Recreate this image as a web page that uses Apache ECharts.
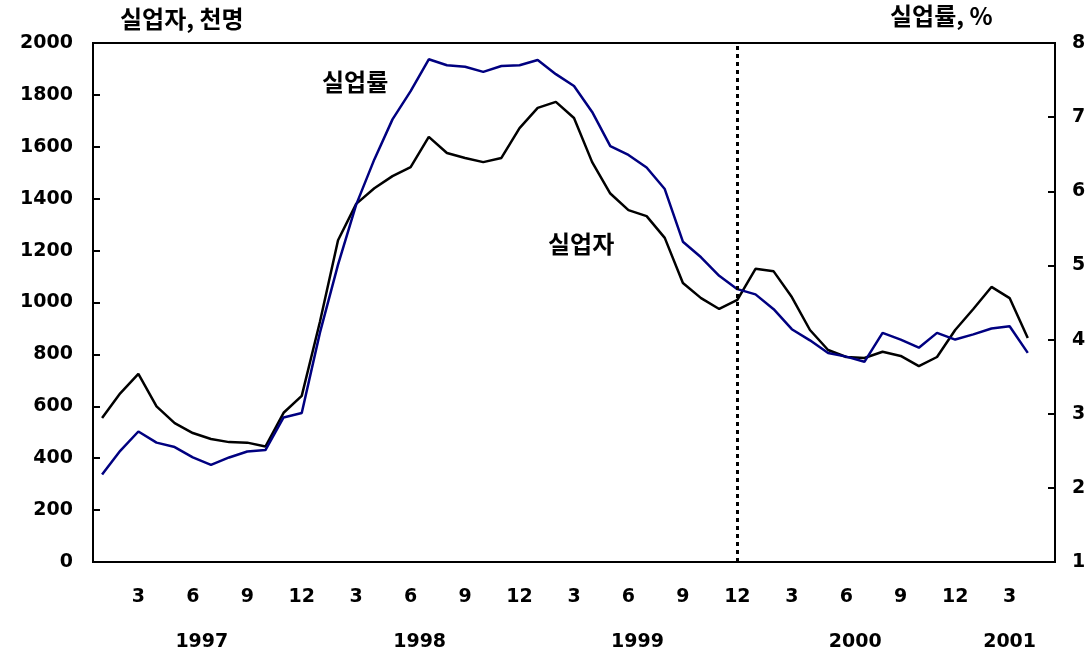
<!DOCTYPE html>
<html>
<head>
<meta charset="utf-8">
<script src="https://cdn.jsdelivr.net/npm/echarts@6/dist/echarts.min.js"></script>
<style>
  html, body { margin: 0; padding: 0; background: #fff; }
  #chart { width: 1092px; height: 656px; }
</style>
</head>
<body>
<div id="chart"></div>
<script>
// 1997.1 ~ 2001.5 월별 (마지막 달은 여백용)
const months = [];
for (let y = 1997; y <= 2001; y++) {
    for (let m = 1; m <= 12; m++) {
        if (y === 2001 && m > 5) break;
        months.push(y + '.' + m);
    }
}

// 실업자 (천명, 왼쪽 축)
const unemployed = [
    555, 650, 725, 600, 535, 497, 474, 462, 460, 445, 575, 640,
    925, 1240, 1380, 1440, 1487, 1522, 1638, 1576, 1557, 1541, 1557, 1672,
    1750, 1773, 1711, 1541, 1420, 1356, 1333, 1249, 1075, 1017, 975, 1010,
    1130, 1120, 1021, 894, 817, 790, 786, 810, 794, 755, 790, 894,
    975, 1060, 1017, 863
];

// 실업률 (%, 오른쪽 축)
const rate = [
    2.18, 2.50, 2.76, 2.61, 2.55, 2.41, 2.31, 2.41, 2.49, 2.51, 2.95, 3.01,
    4.09, 5.01, 5.82, 6.43, 6.97, 7.35, 7.78, 7.70, 7.68, 7.61, 7.69, 7.70,
    7.77, 7.58, 7.42, 7.07, 6.61, 6.49, 6.32, 6.03, 5.32, 5.11, 4.86, 4.68,
    4.61, 4.41, 4.14, 3.99, 3.82, 3.77, 3.70, 4.09, 4.00, 3.89, 4.09, 4.00,
    4.07, 4.15, 4.18, 3.82
];

const yearLabels = { '1997.6': '1997', '1998.6': '1998', '1999.6': '1999', '2000.6': '2000', '2001.3': '2001' };
const breakMonth = '1999.12';

const numFont = '"DejaVu Sans", sans-serif';
const krFont = '"Noto Sans CJK KR", sans-serif';

const myChart = echarts.init(document.getElementById('chart'), null, { renderer: 'canvas' });

const option = {
    backgroundColor: '#fff',
    animation: false,
    title: [
        {
            text: '실업자, 천명',
            left: 115, top: 2,
            textStyle: { fontFamily: krFont, fontSize: 24, fontWeight: 'bold', color: '#000' }
        },
        {
            text: '실업률, %',
            left: 885, top: -1,
            textStyle: { fontFamily: krFont, fontSize: 24, fontWeight: 'bold', color: '#000' }
        }
    ],
    graphic: [
        {
            type: 'text', left: 322, top: 70,
            style: { text: '실업률', font: 'bold 24px ' + krFont, fill: '#000' }
        },
        {
            type: 'text', left: 548, top: 232,
            style: { text: '실업자', font: 'bold 24px ' + krFont, fill: '#000' }
        }
    ],
    grid: {
        left: 93, right: 37, top: 43, bottom: 94,
        show: true, borderColor: '#000', borderWidth: 2, backgroundColor: 'transparent'
    },
    xAxis: [
        {
            type: 'category',
            data: months,
            boundaryGap: true,
            axisLine: { show: false },
            axisTick: { show: false },
            axisLabel: {
                interval: 0,
                margin: 26,
                fontFamily: numFont, fontSize: 19, fontWeight: 'bold', color: '#000',
                formatter: function (v) {
                    const m = +v.split('.')[1];
                    return (m % 3 === 0) ? String(m) : '';
                }
            }
        },
        {
            type: 'category',
            data: months,
            position: 'bottom',
            boundaryGap: true,
            axisLine: { show: false },
            axisTick: { show: false },
            axisLabel: {
                interval: 0,
                margin: 71,
                fontFamily: numFont, fontSize: 19, fontWeight: 'bold', color: '#000',
                formatter: function (v) {
                    if (!yearLabels[v]) return '';
                    return v === '2001.3' ? '{b|' + yearLabels[v] + '}' : '{a|' + yearLabels[v] + '}';
                },
                rich: {
                    a: { padding: [0, 0, 0, 18], fontFamily: numFont, fontSize: 19, fontWeight: 'bold', color: '#000' },
                    b: { fontFamily: numFont, fontSize: 19, fontWeight: 'bold', color: '#000' }
                }
            }
        }
    ],
    yAxis: [
        {
            type: 'value',
            min: 0, max: 2000, interval: 200,
            splitLine: { show: false },
            axisLine: { show: true, lineStyle: { color: '#000', width: 2 } },
            axisTick: { show: true, inside: true, length: 7, lineStyle: { color: '#000', width: 2 } },
            axisLabel: {
                margin: 20, fontFamily: numFont, fontSize: 19, fontWeight: 'bold', color: '#000',
                formatter: function (v) { return String(v); }
            }
        },
        {
            type: 'value',
            min: 1, max: 8, interval: 1,
            position: 'right',
            splitLine: { show: false },
            axisLine: { show: true, lineStyle: { color: '#000', width: 2 } },
            axisTick: { show: true, inside: true, length: 7, lineStyle: { color: '#000', width: 2 } },
            axisLabel: { margin: 17, fontFamily: numFont, fontSize: 19, fontWeight: 'bold', color: '#000' }
        }
    ],
    series: [
        {
            name: '실업자',
            type: 'line',
            yAxisIndex: 0,
            data: unemployed,
            symbol: 'none',
            lineStyle: { color: '#000', width: 2.5 },
            z: 3,
            markLine: {
                silent: true,
                symbol: 'none',
                label: { show: false },
                lineStyle: { color: '#000', type: [4, 4], width: 3 },
                data: [{ xAxis: breakMonth }]
            }
        },
        {
            name: '실업률',
            type: 'line',
            yAxisIndex: 1,
            data: rate,
            symbol: 'none',
            lineStyle: { color: '#000080', width: 2.5 },
            z: 4
        }
    ]
};

option && myChart.setOption(option);

window.addEventListener('resize', () => {
    myChart.resize();
});
</script>
</body>
</html>
